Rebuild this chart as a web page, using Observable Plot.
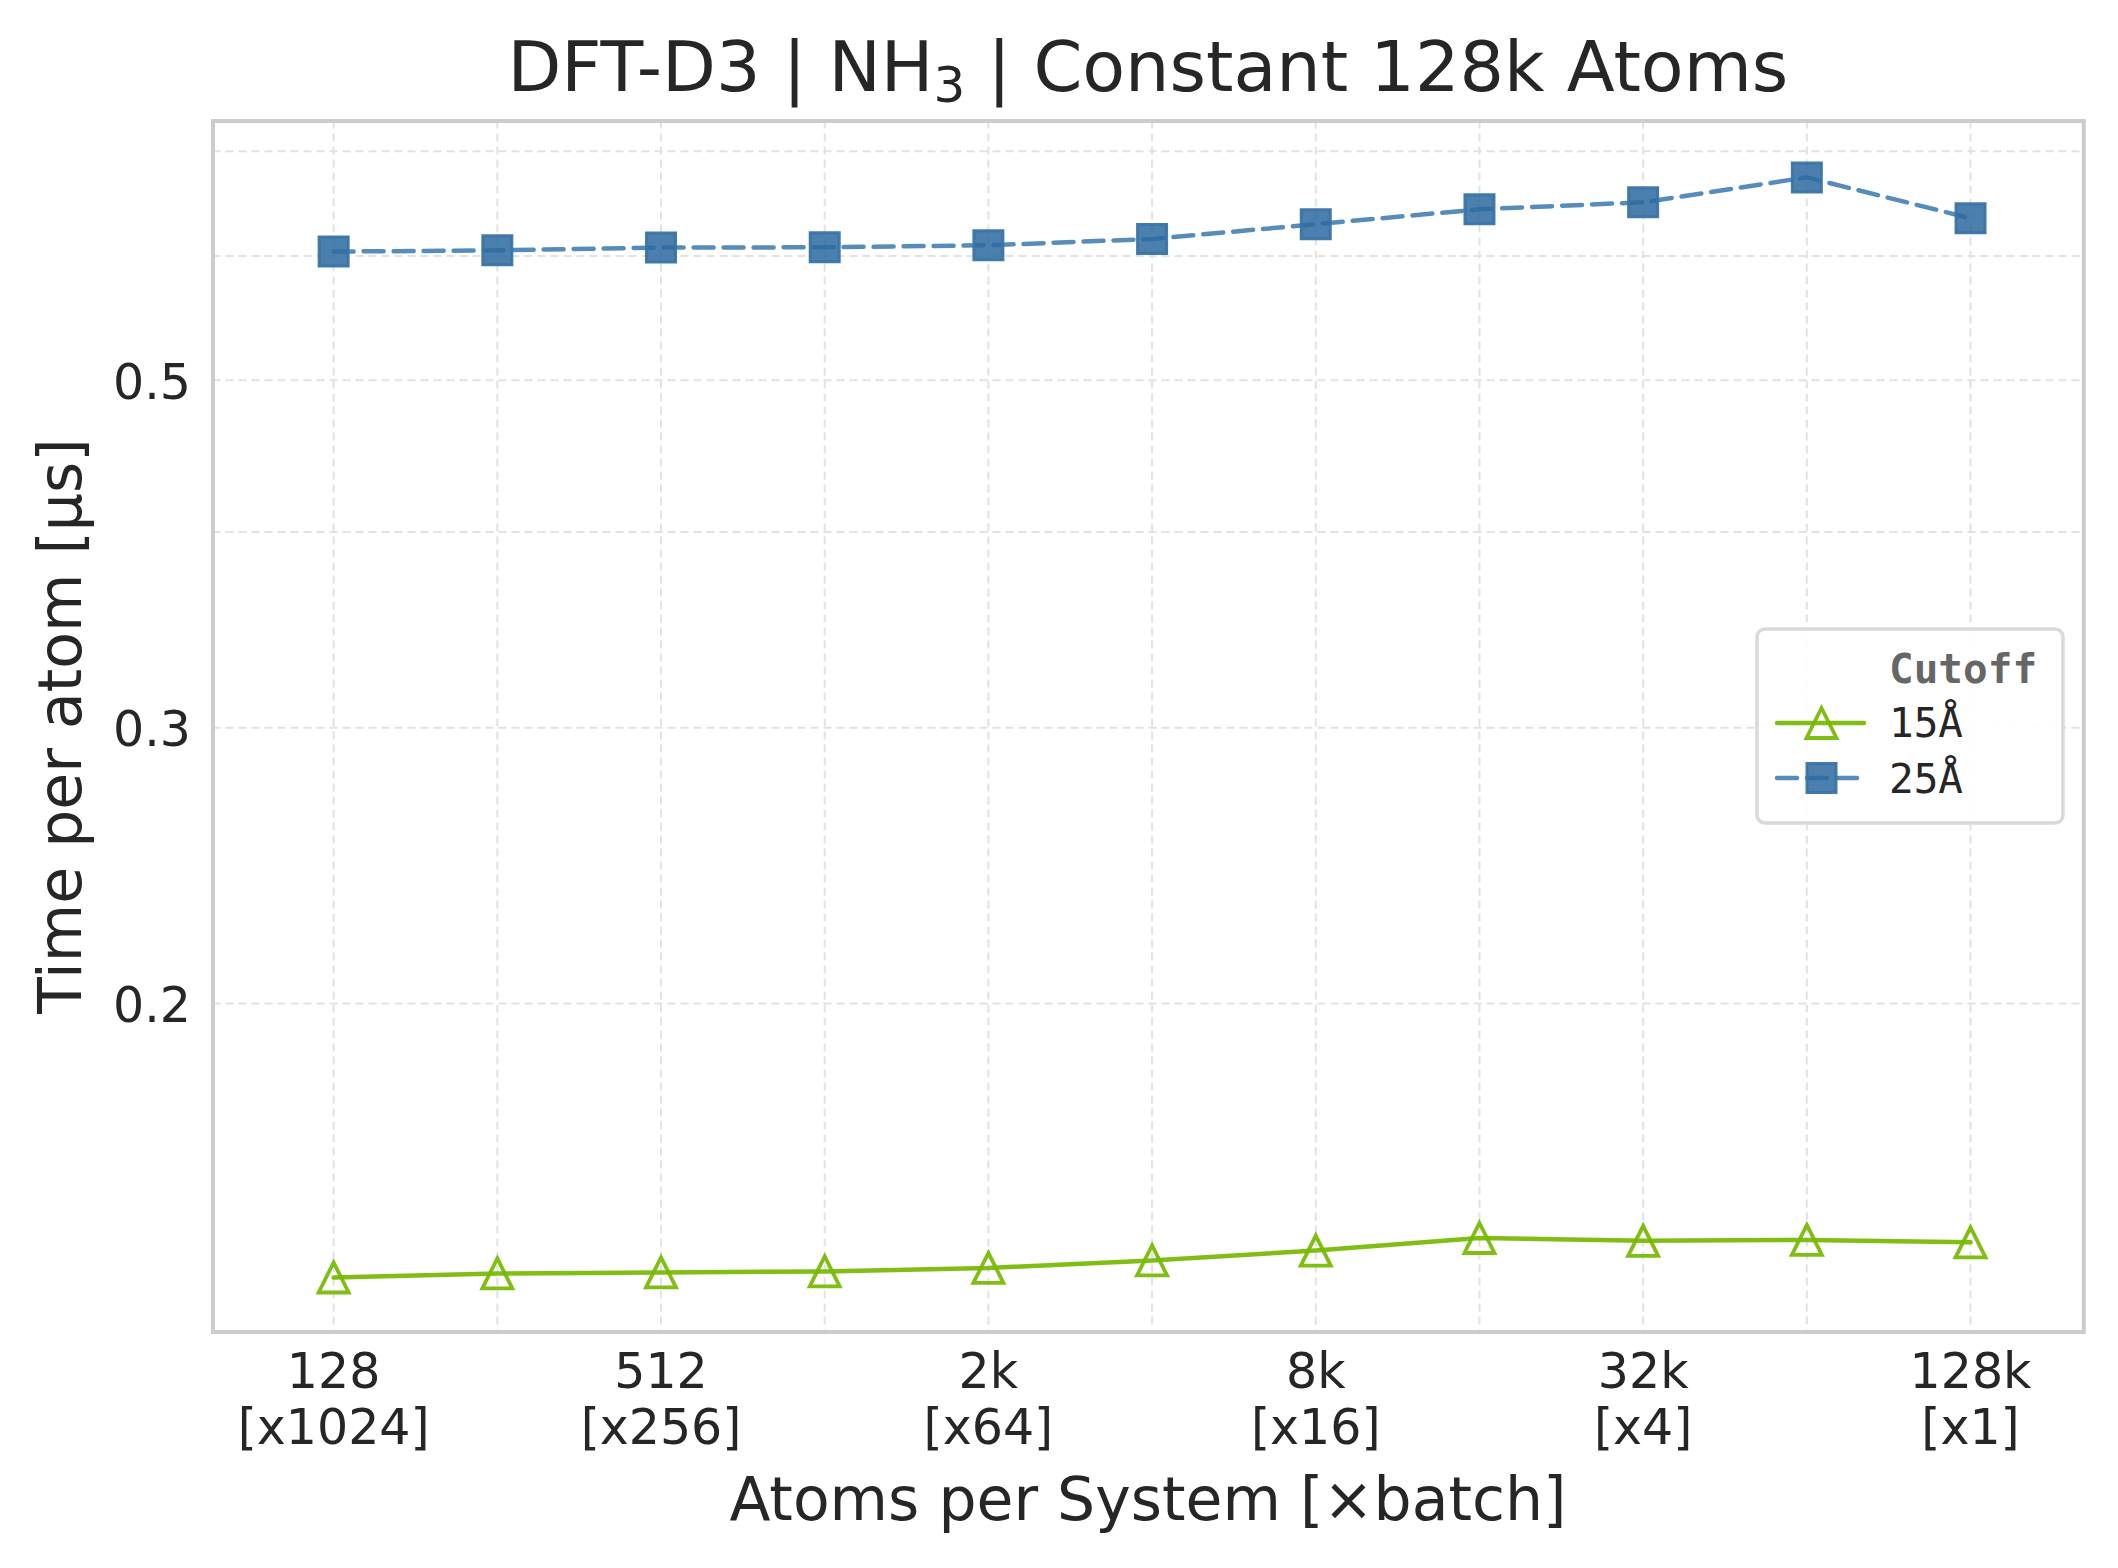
<!DOCTYPE html>
<html>
<head>
<meta charset="utf-8">
<script src="https://cdn.jsdelivr.net/npm/d3@7"></script>
<script src="https://cdn.jsdelivr.net/npm/@observablehq/plot@0.6"></script>
<style>
html, body { margin: 0; padding: 0; background: #ffffff; }
#chart { position: relative; width: 2118px; height: 1568px; }
</style>
</head>
<body>
<div id="chart"></div>
<script>
// ---- data ----
const atoms = [128, 256, 512, 1024, 2048, 4096, 8192, 16384, 32768, 65536, 131072];
const time15 = [0.1337, 0.1345, 0.1347, 0.1349, 0.1356, 0.1371, 0.1391, 0.1417, 0.1411, 0.1413, 0.1408];
const time25 = [0.6040, 0.6051, 0.6076, 0.6078, 0.6096, 0.6153, 0.6288, 0.6427, 0.6494, 0.6736, 0.6343];
const cutoffs = ["15Å", "25Å"];
const xTickAtoms = [128, 512, 2048, 8192, 32768, 131072];
const xTickLabels = ["128\n[x1024]", "512\n[x256]", "2k\n[x64]", "8k\n[x16]", "32k\n[x4]", "128k\n[x1]"];
const yTickValues = [0.2, 0.3, 0.5];
const yGridValues = [0.2, 0.3, 0.4, 0.5, 0.6, 0.7];
const titleMain = "DFT-D3 | NH";
const titleSub = "3";
const titleRest = " | Constant 128k Atoms";
const xLabel = "Atoms per System [×batch]";
const yLabel = "Time per atom [µs]";
const legendTitle = "Cutoff";

// ---- styles ----
const GREEN = "#76b900";
const BLUE = "#4682b4";
const SQ_FILL = "#2b6aa0";
const SQ_EDGE = "#3a74a6";
const INK = "#262626";
const GRID = "#e2e2e2";

const rows15 = atoms.map((a, i) => ({atoms: a, t: time15[i], cutoff: cutoffs[0]}));
const rows25 = atoms.map((a, i) => ({atoms: a, t: time25[i], cutoff: cutoffs[1]}));

const triangleUp = {
  draw(ctx, size) {
    const r = Math.sqrt(size / Math.PI);
    ctx.moveTo(0, -r); ctx.lineTo(r, r); ctx.lineTo(-r, r); ctx.closePath();
  }
};
const squareSym = {
  draw(ctx, size) {
    const r = Math.sqrt(size / Math.PI);
    ctx.rect(-r, -r, 2 * r, 2 * r);
  }
};

const W = 2118, H = 1568;
const mL = 212.5, mR = 34.7, mT = 120.5, mB = 236.5;

const plot = Plot.plot({
  width: W,
  height: H,
  marginLeft: mL,
  marginRight: mR,
  marginTop: mT,
  marginBottom: mB,
  style: {fontFamily: "DejaVu Sans", color: INK, background: "#ffffff", overflow: "visible"},
  x: {type: "log", base: 2, domain: [128 * Math.pow(2, -0.737), 131072 * Math.pow(2, 0.692)]},
  y: {type: "log", domain: [0.12341, 0.7318]},
  marks: [
    Plot.gridX(atoms, {stroke: GRID, strokeOpacity: 1, strokeWidth: 2, strokeDasharray: "8,5"}),
    Plot.gridY(yGridValues, {stroke: GRID, strokeOpacity: 1, strokeWidth: 2, strokeDasharray: "8,5"}),
    Plot.axisX(xTickAtoms, {
      tickSize: 0, tickPadding: 16, fontSize: 49, lineHeight: 1.143, fill: INK,
      tickFormat: (d) => xTickLabels[xTickAtoms.indexOf(d)], label: null
    }),
    Plot.axisY(yTickValues, {
      tickSize: 0, tickPadding: 22, fontSize: 49, fill: INK, dy: 3,
      tickFormat: (d) => String(d), label: null
    }),
    Plot.line(rows15, {x: "atoms", y: "t", stroke: GREEN, strokeWidth: 4.5, strokeOpacity: 0.92}),
    Plot.dot(rows15, {x: "atoms", y: "t", symbol: triangleUp, r: 15, fill: "none", stroke: GREEN, strokeWidth: 3.8, strokeOpacity: 0.92}),
    Plot.line(rows25, {x: "atoms", y: "t", stroke: BLUE, strokeWidth: 4.5, strokeOpacity: 0.92, strokeDasharray: "20,10", strokeLinecap: "round"}),
    Plot.dot(rows25, {x: "atoms", y: "t", symbol: squareSym, r: 14.5, fill: SQ_FILL, fillOpacity: 0.85, stroke: SQ_EDGE, strokeOpacity: 0.95, strokeWidth: 3}),
    Plot.frame({stroke: "#cccccc", strokeWidth: 4})
  ]
});

document.getElementById("chart").appendChild(plot);

const svg = d3.select(plot);
const cx = mL + (W - mL - mR) / 2;
const cy = mT + (H - mT - mB) / 2;

// title
const title = svg.append("text")
  .attr("x", cx).attr("y", 91)
  .attr("text-anchor", "middle")
  .attr("font-family", "DejaVu Sans")
  .attr("font-size", 70)
  .attr("fill", INK);
title.append("tspan").text(titleMain);
title.append("tspan").attr("font-size", 50).attr("dy", 10.7).text(titleSub);
title.append("tspan").attr("dy", -10.7).text(titleRest);

// axis labels
svg.append("text")
  .attr("x", cx).attr("y", 1520)
  .attr("text-anchor", "middle")
  .attr("font-family", "DejaVu Sans")
  .attr("font-size", 60)
  .attr("fill", INK)
  .text(xLabel);

svg.append("text")
  .attr("transform", `translate(81,${cy}) rotate(-90)`)
  .attr("text-anchor", "middle")
  .attr("font-family", "DejaVu Sans")
  .attr("font-size", 60)
  .attr("fill", INK)
  .text(yLabel);

// legend
const lg = svg.append("g").attr("transform", "translate(1757,629)").attr("text-anchor", "start");
lg.append("rect")
  .attr("x", 0).attr("y", 0).attr("width", 306).attr("height", 194)
  .attr("rx", 8).attr("ry", 8)
  .attr("fill", "#ffffff").attr("fill-opacity", 0.9)
  .attr("stroke", "#d9d9d9").attr("stroke-width", 3.5);
lg.append("text")
  .attr("x", 132).attr("y", 54)
  .attr("text-anchor", "start")
  .attr("font-family", "DejaVu Sans Mono")
  .attr("font-weight", "bold")
  .attr("font-size", 41)
  .attr("fill", "#666666")
  .text(legendTitle);
// entry 1
lg.append("line").attr("x1", 20).attr("x2", 107).attr("y1", 94).attr("y2", 94)
  .attr("stroke", GREEN).attr("stroke-width", 4.5).attr("stroke-linecap", "round").attr("stroke-opacity", 0.92);
lg.append("path").attr("d", "M64.5,79L79.5,109L49.5,109Z")
  .attr("fill", "none").attr("stroke", GREEN).attr("stroke-width", 3.8).attr("stroke-opacity", 0.92);
lg.append("text")
  .attr("x", 132).attr("y", 108)
  .attr("text-anchor", "start")
  .attr("font-family", "DejaVu Sans Mono")
  .attr("font-size", 41)
  .attr("fill", INK)
  .text(cutoffs[0]);
// entry 2
lg.append("line").attr("x1", 20).attr("x2", 105).attr("y1", 149).attr("y2", 149)
  .attr("stroke", BLUE).attr("stroke-width", 4.5).attr("stroke-linecap", "round")
  .attr("stroke-dasharray", "20,10").attr("stroke-opacity", 0.92);
lg.append("rect").attr("x", 50).attr("y", 134.5).attr("width", 29).attr("height", 29)
  .attr("fill", SQ_FILL).attr("fill-opacity", 0.85).attr("stroke", SQ_EDGE).attr("stroke-opacity", 0.95).attr("stroke-width", 3);
lg.append("text")
  .attr("x", 132).attr("y", 163.5)
  .attr("text-anchor", "start")
  .attr("font-family", "DejaVu Sans Mono")
  .attr("font-size", 41)
  .attr("fill", INK)
  .text(cutoffs[1]);
</script>
</body>
</html>
